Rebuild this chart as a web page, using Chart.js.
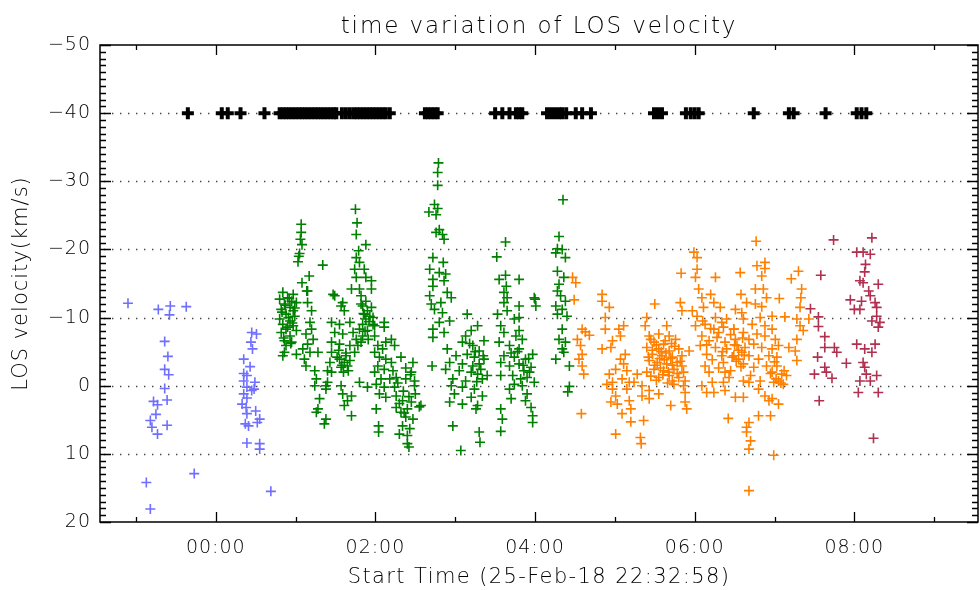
<!DOCTYPE html>
<html>
<head>
<meta charset="utf-8">
<script src="https://cdn.jsdelivr.net/npm/chart.js@4"></script>
<style>
html,body{margin:0;padding:0;background:#fff;}
#wrap{width:980px;height:590px;}
</style>
</head>
<body>
<div id="wrap"><canvas id="c" width="980" height="590"></canvas></div>
<script>
// ---------- DATA (hours relative to 00:00, LOS velocity km/s) ----------
const xTickHours = [0, 2, 4, 6, 8];
const xTickLabels = ['00:00', '02:00', '04:00', '06:00', '08:00'];
const yTicks = [-50, -40, -30, -20, -10, 0, 10, 20];
const xRange = [-1.4506, 9.5494]; // 22:32:58 start, 11 h window
const yRange = [-50, 20];

const blackHours = [-0.35, 0.075, 0.15, 0.31, 0.61, 0.80, 0.84, 0.88, 0.92, 0.96, 1.00, 1.04, 1.08, 1.12, 1.16, 1.20, 1.24, 1.28, 1.32, 1.36, 1.40, 1.44, 1.48, 1.51,
  1.58, 1.63, 1.68, 1.73, 1.77, 1.81, 1.85, 1.89, 1.93, 1.97, 2.01, 2.05, 2.09, 2.13, 2.18, 2.62, 2.66, 2.70, 2.74, 2.78,
  3.50, 3.59, 3.68, 3.76, 3.80, 3.84, 4.15, 4.20, 4.25, 4.30, 4.34, 4.39, 4.51, 4.59, 4.70, 5.49, 5.54, 5.59, 5.89, 5.95, 6.00, 6.05,
  6.74, 7.18, 7.24, 7.64, 8.03, 8.09, 8.15];
const blackVel = blackHours.map(() => -40);

const blueHours = [-1.10,-0.72,-0.57,-0.58,-0.37,-0.64,-0.60,-0.64,-0.59,-0.64,-0.61,-0.78,-0.73,-0.75,-0.82,-0.61,-0.80,-0.73,-0.87,-0.82,-0.27,
  0.45,0.51,0.44,0.46,0.35,0.43,0.35,0.39,0.35,0.49,0.39,0.45,0.48,0.35,0.39,0.33,0.38,0.50,0.39,0.55,0.52,0.37,0.41,0.39,0.55,0.55,0.69];
const blueVel = [-12.1,-11.2,-11.7,-10.4,-11.6,-6.5,-4.3,-2.4,-1.6,0.4,2.1,2.3,2.8,4.2,5.1,5.8,6.1,7.1,14.2,18.1,12.9,
  -7.8,-7.6,-6.4,-5.4,-3.9,-2.8,-1.8,-1.5,-0.7,-0.5,0.2,0.7,0.5,1.2,1.8,2.7,3.2,3.7,4.1,4.9,5.4,5.6,5.9,8.4,8.5,9.3,15.5];

const greenHours = [1.07,1.07,1.06,1.08,1.05,1.04,1.03,1.34,1.17,1.08,1.14,
  0.84,0.97,0.90,0.80,0.95,1.01,0.86,0.93,0.82,0.97,0.88,0.99,0.80,0.93,0.84,0.97,0.88,1.01,0.82,0.93,0.86,0.95,0.88,1.01,0.86,0.84,
  0.83,0.91,0.96,0.87,0.92,0.99,0.85,0.90,0.94,
  1.15,1.15,1.20,1.18,1.20,1.13,1.22,1.15,1.09,1.18,1.11,1.13,1.24,1.26,1.24,1.38,1.30,1.26,1.38,1.36,1.40,1.45,1.28,
  1.47,1.49,1.59,1.57,1.61,1.45,1.55,1.68,1.49,1.59,1.72,1.45,1.55,1.68,1.74,1.63,1.55,1.68,1.61,1.65,1.57,1.43,1.40,1.45,1.57,1.70,1.65,1.61,1.70,1.80,1.90,1.59,1.28,1.38,
  1.52,1.58,1.63,1.66,1.60,1.54,
  1.75,1.77,1.76,1.88,1.79,1.76,1.80,1.74,1.86,1.76,1.88,1.95,1.70,1.80,1.95,1.82,1.88,1.84,1.90,1.86,1.93,1.97,1.88,1.84,1.99,1.80,1.90,1.84,1.76,1.82,1.78,1.99,2.11,2.11,
  1.85,1.92,1.87,1.95,1.82,1.91,1.97,
  2.03,2.09,1.99,2.13,2.20,2.24,2.05,2.13,2.32,2.20,2.03,2.11,2.22,2.47,2.45,1.99,2.07,2.18,2.26,2.38,2.49,2.01,2.11,2.24,2.49,2.05,2.13,2.26,2.34,2.45,2.01,2.26,2.32,2.40,2.55,2.38,2.47,2.34,2.43,2.04,2.04,2.30,2.40,2.40,2.42,
  2.28,2.35,2.42,2.30,2.38,2.44,2.50,2.36,
  2.79,2.78,2.78,2.74,2.78,2.67,2.76,2.80,2.76,2.84,2.86,2.72,2.85,2.68,2.80,2.88,2.72,2.86,2.72,2.90,2.68,2.95,2.82,2.70,2.74,2.84,2.93,2.80,2.72,2.86,2.72,2.71,2.57,2.97,3.07,
  3.15,3.28,3.20,3.13,3.36,3.09,3.22,2.90,3.30,3.15,3.01,3.24,3.36,2.93,3.09,3.22,3.32,2.88,3.05,3.28,3.40,2.97,3.13,3.34,2.95,3.09,3.24,2.99,3.34,3.20,2.93,3.09,3.28,3.26,3.30,3.31,
  3.18,3.25,3.30,3.20,3.27,3.35,
  3.63,3.52,3.55,3.63,3.80,3.64,3.61,3.65,3.99,4.01,3.80,3.61,3.65,3.53,3.80,3.74,3.57,3.80,3.61,3.76,3.84,3.55,3.68,3.80,3.97,3.61,3.74,3.88,3.57,3.80,3.68,3.95,3.86,3.57,3.72,3.90,3.99,3.74,3.84,3.68,3.90,3.70,3.88,3.57,3.95,3.59,3.97,3.97,3.57,4.00,
  3.78,3.85,3.92,3.82,3.93,3.70,
  4.35,4.30,4.28,4.34,4.26,4.38,4.28,4.36,4.30,4.28,4.32,4.38,4.26,4.34,4.40,4.28,4.34,4.30,4.38,4.34,4.36,4.26,4.43,4.43,4.41];
const greenVel = [-23.7,-22.5,-21.5,-20.7,-19.4,-19.0,-18.2,-17.7,-16.1,-15.1,-13.9,
  -13.7,-13.4,-12.9,-12.7,-12.4,-12.2,-12.0,-11.5,-11.2,-11.0,-10.5,-10.2,-9.8,-9.5,-9.0,-8.8,-8.3,-8.1,-7.8,-7.3,-6.6,-6.4,-5.9,-4.6,-4.9,-4.4,
  -10.8,-10.0,-9.2,-11.8,-12.8,-11.4,-7.0,-8.6,-6.2,
  -13.9,-12.2,-11.0,-9.3,-8.3,-7.6,-6.8,-6.1,-5.4,-4.9,-3.9,-2.9,-2.2,-1.0,0.0,0.5,1.9,3.9,4.9,5.6,-0.5,-4.9,-4.9,
  -13.4,-13.2,-12.2,-11.7,-11.0,-9.3,-9.0,-9.3,-7.8,-7.6,-7.8,-6.4,-6.1,-5.9,-4.9,-4.4,-3.9,-3.7,-3.4,-2.9,-2.7,-3.4,-2.2,-2.0,0.0,1.5,2.2,2.9,4.4,-0.5,0.2,1.2,3.4,0.0,
  -4.2,-3.0,-4.8,-2.2,-2.0,-5.2,
  -25.9,-23.9,-22.2,-20.7,-19.8,-18.8,-18.1,-17.1,-17.1,-15.9,-15.9,-15.4,-14.2,-14.2,-14.2,-13.2,-12.4,-11.7,-11.0,-10.5,-10.2,-10.0,-9.8,-9.0,-8.8,-8.3,-8.1,-7.3,-6.8,-6.4,-5.9,-7.3,-9.3,-8.6,
  -10.6,-9.4,-8.0,-11.5,-12.0,-6.8,-9.0,
  -5.9,-5.4,-4.9,-6.4,-6.8,-5.9,-4.2,-3.9,-4.2,-3.4,-2.9,-2.4,-2.2,-3.4,-2.0,-2.0,-1.0,-1.0,-1.2,-1.0,-0.7,-0.2,0.2,0.2,0.0,1.2,1.7,1.5,2.2,2.4,3.4,3.2,3.9,3.4,3.1,4.6,4.9,5.9,6.3,5.9,6.8,7.1,7.3,8.5,9.0,
  -0.4,0.8,1.6,2.6,-2.6,-1.6,1.2,4.0,
  -32.7,-31.3,-29.4,-26.6,-26.0,-25.5,-25.1,-22.9,-22.5,-22.2,-21.5,-18.8,-18.1,-17.1,-16.6,-16.4,-15.6,-15.4,-14.6,-13.7,-13.2,-12.9,-12.2,-12.0,-11.2,-10.7,-9.5,-9.3,-8.3,-7.8,-7.1,-2.9,2.9,5.9,9.5,
  -10.5,-8.8,-8.1,-7.3,-6.6,-6.4,-5.9,-5.4,-5.1,-4.6,-4.4,-4.2,-3.9,-3.4,-3.2,-2.9,-2.4,-2.4,-2.2,-1.7,-1.5,-1.0,-0.7,-1.0,0.0,0.2,0.5,1.2,1.5,1.7,2.4,2.7,2.9,3.4,6.8,8.3,
  -6.2,-5.0,-3.2,-2.0,-0.6,-4.4,
  -21.1,-18.9,-15.6,-16.2,-15.6,-14.6,-13.7,-12.9,-12.9,-11.7,-11.7,-12.2,-11.0,-10.5,-10.0,-9.8,-8.8,-8.1,-7.8,-7.3,-6.8,-6.4,-5.9,-5.4,-4.6,-4.4,-4.2,-3.9,-3.4,-3.2,-2.9,-2.7,-2.2,-1.5,-1.5,-1.2,-0.5,-0.2,0.0,0.5,1.2,1.9,2.2,3.4,3.2,4.9,4.4,5.4,6.7,-12.7,
  -5.0,-3.0,-4.0,-1.0,-2.0,-4.8,
  -27.3,-21.9,-20.1,-20.0,-19.5,-18.8,-16.8,-15.9,-14.9,-13.9,-13.2,-12.4,-11.7,-11.2,-10.2,-10.5,-8.3,-6.8,-6.4,-5.4,-4.9,-3.9,-2.9,0.1,0.9];

const orangeHours = [4.47,4.51,4.49,4.59,4.68,4.53,4.57,4.59,4.55,4.59,4.61,4.58,4.63,
  4.84,4.84,4.93,4.88,4.88,4.84,4.97,4.95,5.05,5.11,5.07,5.13,5.07,5.11,5.01,5.15,4.93,5.09,4.97,4.90,5.18,5.28,5.24,4.97,5.15,5.34,5.43,5.01,5.34,5.55,5.43,4.95,5.03,5.18,5.20,5.09,5.70,5.20,5.36,5.01,5.32,5.33,
  5.50,5.40,5.38,5.65,5.82,5.83,5.84,
  5.43,5.55,5.68,5.76,5.49,5.61,5.40,5.55,5.68,5.80,5.47,5.59,5.72,5.84,5.43,5.53,5.65,5.78,5.49,5.61,5.74,5.40,5.68,5.55,5.80,5.72,5.88,5.86,5.88,5.88,5.90,5.93,5.84,
  5.45,5.52,5.58,5.63,5.70,5.75,5.42,5.50,5.57,5.62,5.67,5.72,5.78,5.45,5.52,5.60,5.66,5.74,5.82,5.86,5.47,5.56,5.64,5.71,
  5.99,6.03,6.03,6.01,6.26,6.05,6.20,6.09,6.24,6.32,6.11,5.97,6.03,6.51,6.26,6.34,6.13,6.01,6.24,6.36,6.49,6.09,6.28,6.18,6.38,6.51,6.07,6.26,6.40,6.53,6.15,6.34,6.49,6.13,6.36,6.18,6.38,6.43,6.09,6.22,6.36,6.15,6.24,6.38,6.51,6.42,
  6.45,6.50,6.55,6.60,6.63,6.47,6.52,6.58,6.62,6.45,6.30,6.35,6.20,6.15,6.22,6.30,6.10,6.40,
  6.77,6.57,6.78,6.88,6.88,6.84,7.30,7.21,6.58,6.76,6.86,6.90,7.34,7.33,7.06,6.65,6.76,6.84,6.59,6.97,6.82,7.13,7.32,7.43,7.28,6.61,6.72,6.88,7.32,6.49,6.97,7.36,6.61,6.78,6.88,6.68,7.01,7.28,6.74,6.84,7.05,6.97,7.18,7.26,6.59,6.68,6.93,7.03,6.80,6.55,7.28,6.61,6.90,7.03,6.74,6.97,7.09,6.70,7.15,6.61,6.82,7.05,6.99,6.68,7.11,6.80,6.61,6.88,6.97,7.05,6.93,6.80,6.95,6.68,6.65,6.65,6.70,6.68,6.99,6.68,
  6.95,7.02,7.08,7.12,7.00];
const orangeVel = [-15.9,-15.1,-12.6,-8.3,-7.4,-6.8,-5.9,-4.6,-3.9,-2.9,-1.7,4.1,-7.9,
  -13.4,-12.4,-11.5,-10.0,-8.3,-5.4,-6.6,-5.6,-8.3,-8.8,-7.3,-4.6,-3.9,-3.2,-2.4,-2.2,-1.7,-1.0,-0.5,-0.2,-0.5,-1.7,-0.5,0.5,0.5,0.0,0.7,1.5,1.5,1.2,1.9,2.4,2.7,2.2,3.4,4.1,2.9,5.3,5.1,7.1,7.6,8.5,
  -12.0,-10.0,-8.8,-8.8,-12.2,-16.5,-11.0,
  -7.3,-7.6,-7.3,-6.8,-6.4,-6.1,-5.6,-5.4,-5.1,-5.4,-4.6,-4.4,-4.2,-4.4,-3.7,-3.4,-3.2,-3.4,-2.4,-2.2,-2.4,-2.0,-1.5,-1.2,-1.2,-0.7,-0.7,0.0,1.0,2.4,3.4,-5.1,-2.9,
  -6.8,-6.0,-5.0,-6.6,-4.0,-5.8,-4.2,-3.0,-2.6,-3.8,-2.0,-3.0,-1.8,-1.4,-0.8,-1.6,-0.4,-0.2,-3.6,-2.0,-5.2,-4.0,-4.8,-6.2,
  -19.6,-18.8,-17.1,-15.9,-15.9,-14.2,-13.4,-12.9,-12.2,-11.5,-11.5,-11.0,-10.2,-11.2,-10.0,-9.3,-9.0,-8.8,-8.3,-8.6,-8.3,-7.3,-7.1,-6.6,-6.4,-6.8,-5.9,-5.6,-5.4,-5.9,-4.6,-4.4,-4.4,-2.9,-3.4,-2.0,-2.0,-1.2,0.0,-0.5,-0.5,1.0,1.0,0.7,1.7,4.8,
  -7.5,-6.0,-5.2,-7.0,-5.6,-4.2,-3.6,-2.8,-4.5,-2.2,-7.8,-5.0,-8.4,-6.0,-3.8,-2.6,-9.5,-9.8,
  -21.2,-16.6,-17.6,-18.1,-17.2,-16.1,-16.8,-15.7,-13.4,-14.2,-14.2,-12.9,-14.2,-12.9,-12.8,-12.2,-12.0,-11.6,-10.7,-10.2,-10.0,-10.1,-11.5,-9.8,-9.8,-9.8,-9.0,-8.8,-8.8,-8.3,-8.3,-8.1,-7.8,-7.6,-7.3,-6.8,-6.8,-6.8,-6.1,-5.6,-5.9,-5.4,-5.6,-5.1,-4.9,-4.4,-4.4,-4.2,-3.9,-3.9,-3.7,-3.2,-2.9,-2.9,-2.7,-2.0,-1.7,-1.5,-1.5,-0.7,-0.7,-0.7,-0.5,-0.5,-0.2,0.5,1.7,1.5,1.9,2.7,2.2,4.4,4.4,5.4,6.1,6.8,8.1,9.3,10.2,15.4,
  -1.8,-1.0,-0.4,-2.2,-3.5];

const maroonHours = [7.74,8.22,8.03,8.11,8.20,8.14,8.13,7.58,8.07,8.11,8.30,8.18,8.20,7.95,8.09,8.26,8.28,7.45,8.00,8.07,8.28,7.55,8.22,8.32,7.55,8.30,
  7.63,7.63,7.75,7.78,8.03,8.13,8.26,8.22,7.54,7.90,8.11,8.13,7.63,7.65,7.50,8.15,8.28,7.72,8.07,8.20,8.05,8.30,7.56,8.24];
const maroonVel = [-21.4,-21.7,-19.6,-19.6,-19.3,-17.8,-16.7,-16.2,-15.4,-15.1,-14.9,-13.9,-13.2,-12.6,-12.4,-12.2,-11.5,-11.3,-11.2,-11.2,-10.2,-10.1,-9.5,-9.3,-8.7,-8.6,
  -7.2,-5.6,-5.6,-4.9,-6.1,-5.4,-6.1,-4.9,-4.2,-3.3,-3.4,-2.7,-2.7,-2.0,-1.7,-1.7,-1.5,-1.1,-0.7,-0.7,1.0,1.0,2.2,7.7];

// ---------- CHART ----------
const FONT = "'DejaVu Sans', sans-serif";
const pairs = (xs, ys) => xs.map((x, i) => ({x: x, y: ys[i]}));
const series = (label, xs, ys, color, r, w) => ({
  label, data: pairs(xs, ys), showLine: false,
  pointStyle: 'cross', pointRadius: r, pointBorderWidth: w,
  borderColor: color, backgroundColor: color, pointHoverRadius: r
});

function spaced(chart, obj, key, sp) {
  if (!obj || obj['_sp_' + key]) return;
  const orig = obj[key];
  obj[key] = function () {
    const c = chart.ctx;
    c.save(); c.letterSpacing = sp;
    const r = orig.apply(this, arguments);
    c.restore();
    return r;
  };
  obj['_sp_' + key] = true;
}

const idlAxes = {
  id: 'idlAxes',
  afterLayout(chart) {
    spaced(chart, chart.titleBlock, 'draw', '1.9px');
    spaced(chart, chart.scales.x, 'drawTitle', '1.4px');
    spaced(chart, chart.scales.y, 'drawTitle', '1.0px');
  },
  beforeDraw(chart) {
    chart.ctx.letterSpacing = '1px';
  },
  beforeDatasetsDraw(chart) {
    const {ctx, chartArea: a, scales: {x, y}} = chart;
    ctx.save();
    // dotted grid lines at inner major y ticks
    ctx.strokeStyle = '#444';
    ctx.lineWidth = 1.4;
    ctx.setLineDash([1.4, 6.6]);
    yTicks.forEach(v => {
      if (v === yRange[0] || v === yRange[1]) return;
      const py = Math.round(y.getPixelForValue(v)) + 0.5;
      ctx.beginPath(); ctx.moveTo(a.left + 4, py); ctx.lineTo(a.right, py); ctx.stroke();
    });
    ctx.setLineDash([]);
    ctx.strokeStyle = '#000';
    ctx.lineWidth = 1.5;
    ctx.strokeRect(a.left, a.top, a.right - a.left, a.bottom - a.top);
    // y ticks (major + minor every 1 km/s), left and right, pointing inward
    ctx.lineWidth = 1.3;
    ctx.beginPath();
    for (let v = yRange[0]; v <= yRange[1]; v++) {
      const major = yTicks.includes(v);
      const len = major ? 11 : 6;
      const py = Math.round(y.getPixelForValue(v)) + 0.5;
      ctx.moveTo(a.left, py); ctx.lineTo(a.left + len, py);
      ctx.moveTo(a.right, py); ctx.lineTo(a.right - len, py);
    }
    // x ticks (major at labelled hours, minor every hour), bottom and top
    for (let h = Math.ceil(xRange[0]); h <= xRange[1]; h++) {
      const major = xTickHours.includes(h);
      const len = major ? 10 : 5;
      const px = Math.round(x.getPixelForValue(h)) + 0.5;
      ctx.moveTo(px, a.bottom); ctx.lineTo(px, a.bottom - len);
      ctx.moveTo(px, a.top); ctx.lineTo(px, a.top + len);
    }
    ctx.stroke();
    ctx.restore();
  }
};

new Chart(document.getElementById('c'), {
  type: 'scatter',
  data: {
    datasets: [
      series('markers', blackHours, blackVel, '#000000', 6, 4),
      series('blue', blueHours, blueVel, 'rgb(110,110,255)', 5, 1.6),
      series('green', greenHours, greenVel, 'rgb(0,128,0)', 5, 1.6),
      series('orange', orangeHours, orangeVel, 'rgb(255,128,0)', 5, 1.6),
      series('maroon', maroonHours, maroonVel, 'rgb(176,48,80)', 5, 1.6)
    ]
  },
  options: {
    responsive: false,
    devicePixelRatio: 1,
    animation: false,
    events: [],
    layout: {autoPadding: false, padding: {left: 0, right: 2, top: 0, bottom: 0}},
    plugins: {
      legend: {display: false},
      tooltip: {enabled: false},
      title: {
        display: true,
        fullSize: false,
        text: 'time variation of LOS velocity',
        color: '#000',
        font: {family: FONT, size: 23, weight: 200},
        padding: {top: 13, bottom: 4.4}
      }
    },
    scales: {
      x: {
        type: 'linear', position: 'bottom',
        min: xRange[0], max: xRange[1],
        afterBuildTicks: s => { s.ticks = xTickHours.map(v => ({value: v})); },
        afterFit: s => { s.height = 68; s.paddingLeft = 0; s.paddingRight = 0; },
        grid: {display: false, drawTicks: false},
        border: {display: false},
        ticks: {
          autoSkip: false, maxRotation: 0, padding: 15, color: '#000',
          font: {family: FONT, size: 19, weight: 200},
          callback: v => xTickLabels[xTickHours.indexOf(v)]
        },
        title: {
          display: true, text: 'Start Time (25-Feb-18 22:32:58)', color: '#000',
          font: {family: FONT, size: 21, weight: 200}, padding: {top: 0, bottom: 0}
        }
      },
      y: {
        type: 'linear', position: 'left', reverse: true,
        min: yRange[0], max: yRange[1],
        afterBuildTicks: s => { s.ticks = yTicks.map(v => ({value: v})); },
        afterFit: s => { s.width = 100; s.paddingTop = 0; s.paddingBottom = 0; },
        grid: {display: false, drawTicks: false},
        border: {display: false},
        ticks: {
          autoSkip: false, padding: 9, color: '#000',
          font: {family: FONT, size: 19, weight: 200},
          callback: v => (v < 0 ? '\u2212' + Math.abs(v) : String(v))
        },
        title: {
          display: true, text: 'LOS velocity(km/s)', color: '#000',
          font: {family: FONT, size: 21, weight: 200}, padding: {top: 9, bottom: 0}
        }
      }
    }
  },
  plugins: [idlAxes]
});
</script>
</body>
</html>
